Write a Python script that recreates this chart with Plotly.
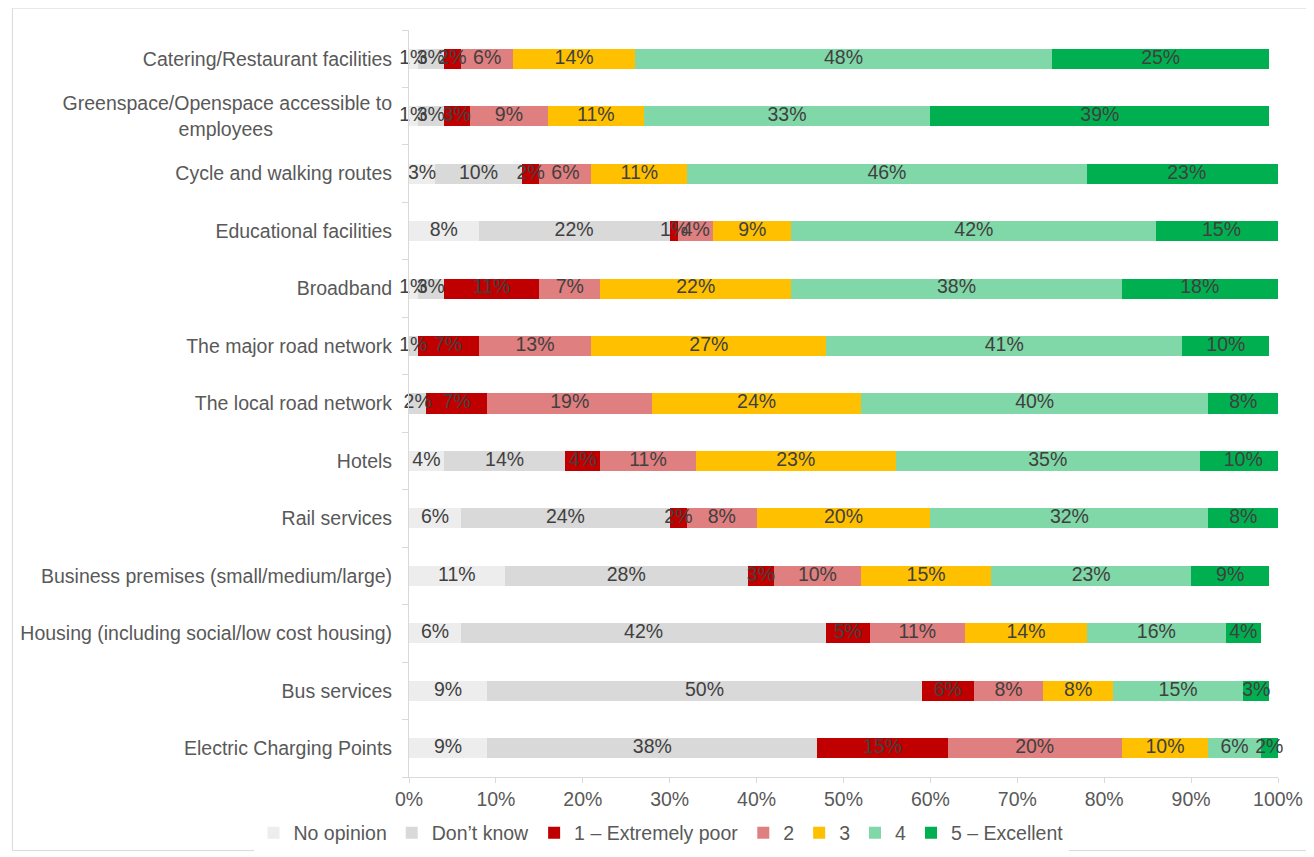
import plotly.graph_objects as go

categories = [
    "Catering/Restaurant facilities",
    "Greenspace/Openspace accessible to<br>employees" + "\u00a0" * 22,
    "Cycle and walking routes",
    "Educational facilities",
    "Broadband",
    "The major road network",
    "The local road network",
    "Hotels",
    "Rail services",
    "Business premises (small/medium/large)",
    "Housing (including social/low cost housing)",
    "Bus services",
    "Electric Charging Points",
]

series_names = ["No opinion", "Don\u2019t know", "1 \u2013 Extremely poor", "2", "3", "4", "5 \u2013 Excellent"]

no_opinion = [1, 1, 3, 8, 1, 0, 0, 4, 6, 11, 6, 9, 9]
dont_know = [3, 3, 10, 22, 3, 1, 2, 14, 24, 28, 42, 50, 38]
extremely_poor = [2, 3, 2, 1, 11, 7, 7, 4, 2, 3, 5, 6, 15]
two = [6, 9, 6, 4, 7, 13, 19, 11, 8, 10, 11, 8, 20]
three = [14, 11, 11, 9, 22, 27, 24, 23, 20, 15, 14, 8, 10]
four = [48, 33, 46, 42, 38, 41, 40, 35, 32, 23, 16, 15, 6]
excellent = [25, 39, 23, 15, 18, 10, 8, 10, 8, 9, 4, 3, 2]

colors = ["#EDEDED", "#D9D9D9", "#C00000", "#E07F7F", "#FFC000", "#80D7A7", "#00B050"]

all_series = [no_opinion, dont_know, extremely_poor, two, three, four, excellent]

FONT = "Liberation Sans, Arial, sans-serif"
FS = 19.5

fig = go.Figure()
for name, vals, col in zip(series_names, all_series, colors):
    fig.add_trace(go.Bar(
        y=categories,
        x=[v / 100 for v in vals],
        name=name,
        orientation="h",
        marker=dict(color=col, line=dict(width=0)),
        textposition="none",
        hoverinfo="x+y+name",
    ))

# value labels drawn on top of all bars, centred on each segment
label_x, label_y, label_t = [], [], []
cum = [0] * len(categories)
for vals in all_series:
    for i, v in enumerate(vals):
        if v > 0:
            label_x.append((cum[i] + v / 2) / 100)
            label_y.append(categories[i])
            label_t.append(f"{v}%")
        cum[i] += v

fig.add_trace(go.Scatter(
    x=label_x, y=label_y, text=label_t,
    mode="text", textposition="middle center",
    textfont=dict(color="#404040", size=FS, family=FONT),
    showlegend=False, hoverinfo="skip", cliponaxis=False,
))

fig.update_layout(
    barmode="stack",
    bargap=0.65,
    width=1314,
    height=857,
    margin=dict(l=398, r=44, t=22, b=84),
    paper_bgcolor="white",
    plot_bgcolor="white",
    font=dict(family=FONT, size=FS, color="#595959"),
    xaxis=dict(
        range=[0, 1],
        tickvals=[i / 10 for i in range(11)],
        tickformat=".0%",
        showgrid=False,
        zeroline=False,
        showline=True,
        linecolor="#D9D9D9",
        linewidth=1,
        ticks="outside",
        ticklen=5,
        tickcolor="#D9D9D9",
        tickfont=dict(size=FS, color="#595959"),
        fixedrange=True,
    ),
    yaxis=dict(
        categoryorder="array",
        categoryarray=categories[::-1],
        range=[-0.5, len(categories) - 0.5],
        autorange=False,
        showgrid=False,
        showline=True,
        linecolor="#D9D9D9",
        linewidth=1,
        ticks="outside",
        tickson="boundaries",
        ticklen=6,
        tickcolor="#D9D9D9",
        tickfont=dict(size=FS, color="#595959"),
        ticklabelstandoff=12,
        fixedrange=True,
    ),
    legend=dict(
        orientation="h",
        x=0.29,
        xanchor="center",
        y=-0.075,
        yanchor="middle",
        font=dict(size=FS, color="#595959"),
        traceorder="normal",
        itemwidth=30,
    ),
    shapes=[dict(
        type="rect", xref="paper", yref="paper",
        x0=-0.4564, x1=1.0367, y0=-0.0985, y1=1.0293,
        line=dict(color="#D9D9D9", width=1), fillcolor="rgba(0,0,0,0)", layer="below",
    )],
)

fig.write_html("out.html")
